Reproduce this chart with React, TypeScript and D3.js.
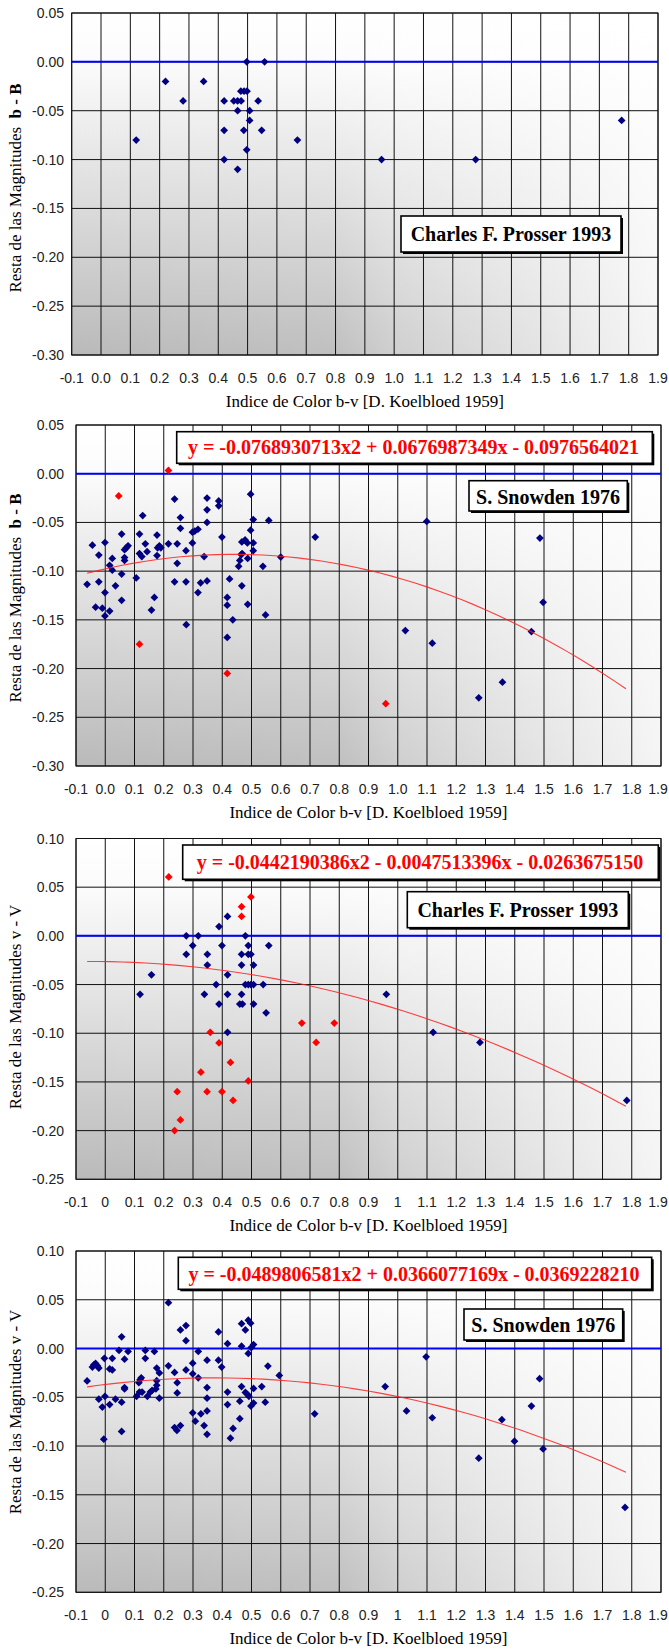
import React from 'react';
import * as d3 from 'd3';

// ---------- DATA ----------
const xTickValues = [-0.1, 0, 0.1, 0.2, 0.3, 0.4, 0.5, 0.6, 0.7, 0.8, 0.9, 1.0, 1.1, 1.2, 1.3, 1.4, 1.5, 1.6, 1.7, 1.8, 1.9];
const xTickLabelsFixed = ['-0.1', '0.0', '0.1', '0.2', '0.3', '0.4', '0.5', '0.6', '0.7', '0.8', '0.9', '1.0', '1.1', '1.2', '1.3', '1.4', '1.5', '1.6', '1.7', '1.8', '1.9'];
const xTickLabelsShort = ['-0.1', '0', '0.1', '0.2', '0.3', '0.4', '0.5', '0.6', '0.7', '0.8', '0.9', '1', '1.1', '1.2', '1.3', '1.4', '1.5', '1.6', '1.7', '1.8', '1.9'];
const yTicksBB = [0.05, 0, -0.05, -0.1, -0.15, -0.2, -0.25, -0.3];
const yTickLabelsBB = ['0.05', '0.00', '-0.05', '-0.10', '-0.15', '-0.20', '-0.25', '-0.30'];
const yTicksVV = [0.1, 0.05, 0, -0.05, -0.1, -0.15, -0.2, -0.25];
const yTickLabelsVV = ['0.10', '0.05', '0.00', '-0.05', '-0.10', '-0.15', '-0.20', '-0.25'];

// Panel 1: Prosser 1993, b - B
const prosserBB: [number, number][] = [
  [0.12, -0.08], [0.22, -0.02], [0.28, -0.04], [0.35, -0.02], [0.42, -0.04], [0.42, -0.07], [0.42, -0.10],
  [0.453, -0.04], [0.466, -0.04], [0.478, -0.04], [0.466, -0.05], [0.466, -0.11], [0.477, -0.03], [0.488, -0.03],
  [0.498, -0.03], [0.487, -0.07], [0.497, 0.0], [0.497, -0.09], [0.507, -0.05], [0.507, -0.06], [0.536, -0.04],
  [0.548, -0.07], [0.558, 0.0], [0.67, -0.08], [0.957, -0.10], [1.278, -0.10], [1.776, -0.06],
];

// Panel 2: Snowden 1976, b - B
const snowdenBB: [number, number][] = [
  [-0.062, -0.1135], [-0.044, -0.0733], [-0.033, -0.137], [-0.022, -0.0835], [-0.022, -0.111], [-0.01, -0.138],
  [-0.001, -0.0706], [-0.001, -0.122], [-0.001, -0.146], [0.015, -0.094], [0.015, -0.141], [0.024, -0.087],
  [0.024, -0.099], [0.035, -0.115], [0.056, -0.062], [0.056, -0.103], [0.056, -0.13], [0.066, -0.078],
  [0.066, -0.086], [0.066, -0.089], [0.072, -0.076], [0.078, -0.074], [0.106, -0.107], [0.117, -0.062],
  [0.117, -0.082], [0.125, -0.085], [0.128, -0.043], [0.137, -0.072], [0.143, -0.08], [0.158, -0.14],
  [0.168, -0.127], [0.177, -0.063], [0.177, -0.084], [0.179, -0.076], [0.185, -0.074], [0.19, -0.076],
  [0.216, -0.072], [0.237, -0.026], [0.237, -0.111], [0.246, -0.072], [0.246, -0.092], [0.257, -0.045],
  [0.257, -0.056], [0.276, -0.079], [0.276, -0.111], [0.277, -0.155], [0.298, -0.071], [0.298, -0.06],
  [0.306, -0.059], [0.317, -0.057], [0.317, -0.122], [0.326, -0.112], [0.338, -0.085], [0.348, -0.025],
  [0.348, -0.037], [0.348, -0.05], [0.348, -0.11], [0.388, -0.028], [0.388, -0.033], [0.399, -0.065],
  [0.417, -0.127], [0.417, -0.135], [0.417, -0.168], [0.425, -0.108], [0.436, -0.15], [0.456, -0.095],
  [0.46, -0.089], [0.465, -0.083], [0.468, -0.082], [0.467, -0.115], [0.467, -0.07], [0.478, -0.068],
  [0.486, -0.071], [0.487, -0.087], [0.487, -0.134], [0.497, -0.021], [0.497, -0.058], [0.506, -0.047],
  [0.506, -0.071], [0.506, -0.079], [0.539, -0.095], [0.548, -0.145], [0.559, -0.048], [0.6, -0.0855],
  [0.718, -0.065], [1.099, -0.049], [1.486, -0.066], [1.497, -0.132], [1.026, -0.161], [1.118, -0.174],
  [1.457, -0.162], [1.358, -0.214], [1.277, -0.23],
];
const snowdenBBOut: [number, number][] = [
  [0.216, 0.0034], [0.046, -0.0228], [0.117, -0.175], [0.417, -0.205], [0.959, -0.236],
];

// Panel 3: Prosser 1993, v - V
const prosserVV: [number, number][] = [
  [0.119, -0.06], [0.158, -0.04], [0.277, 0.0], [0.318, 0.0], [0.299, -0.01], [0.277, -0.019], [0.349, -0.019],
  [0.349, -0.03], [0.379, -0.05], [0.339, -0.06], [0.389, -0.07], [0.389, 0.0095], [0.399, -0.01], [0.418, 0.02],
  [0.418, -0.04], [0.418, -0.06], [0.418, -0.099], [0.466, -0.019], [0.466, -0.03], [0.466, -0.06], [0.46, -0.07],
  [0.469, -0.07], [0.479, 0.0], [0.489, -0.01], [0.489, -0.019], [0.498, -0.019], [0.507, -0.03], [0.479, -0.05],
  [0.489, -0.05], [0.498, -0.05], [0.507, -0.05], [0.507, -0.07], [0.54, -0.05], [0.55, -0.079], [0.559, -0.01],
  [0.961, -0.06], [1.121, -0.099], [1.281, -0.1095], [1.783, -0.169],
];
const prosserVVOut: [number, number][] = [
  [0.217, 0.0605], [0.498, 0.04], [0.466, 0.03], [0.466, 0.02], [0.359, -0.099], [0.389, -0.11], [0.327, -0.14],
  [0.428, -0.13], [0.489, -0.149], [0.246, -0.16], [0.348, -0.16], [0.399, -0.16], [0.437, -0.169], [0.257, -0.189],
  [0.237, -0.2], [0.672, -0.0895], [0.721, -0.1095], [0.783, -0.0895],
];

// Panel 4: Snowden 1976, v - V
const snowdenVV: [number, number][] = [
  [-0.062, -0.0333], [-0.044, -0.019], [-0.039, -0.0167], [-0.033, -0.0153], [-0.027, -0.0177], [-0.022, -0.02],
  [-0.022, -0.052], [-0.01, -0.06], [-0.005, -0.093], [-0.003, -0.01], [-0.001, -0.049], [0.015, -0.021],
  [0.024, -0.022], [0.015, -0.0575], [0.024, -0.01], [0.035, -0.052], [0.047, -0.002], [0.056, 0.012],
  [0.056, -0.055], [0.056, -0.085], [0.066, -0.011], [0.066, -0.04], [0.066, -0.0415], [0.078, -0.003],
  [0.107, -0.049], [0.115, -0.035], [0.119, -0.032], [0.123, -0.03], [0.117, -0.0446], [0.126, -0.0446],
  [0.137, -0.002], [0.137, -0.01], [0.144, -0.049], [0.154, -0.0446], [0.16, -0.043], [0.168, -0.003],
  [0.173, -0.0415], [0.176, -0.033], [0.176, -0.0378], [0.176, -0.02], [0.185, -0.025], [0.185, -0.051],
  [0.216, 0.047], [0.216, -0.0177], [0.237, -0.0245], [0.246, -0.035], [0.246, -0.0456], [0.237, -0.081],
  [0.245, -0.084], [0.257, -0.079], [0.257, 0.019], [0.276, 0.0235], [0.276, 0.008], [0.276, -0.022],
  [0.299, -0.015], [0.299, -0.026], [0.299, -0.066], [0.308, -0.0745], [0.318, -0.003], [0.318, -0.03],
  [0.327, -0.067], [0.338, -0.079], [0.348, -0.012], [0.348, -0.04], [0.348, -0.051], [0.348, -0.064],
  [0.348, -0.088], [0.387, 0.017], [0.387, -0.012], [0.398, -0.019], [0.418, 0.005], [0.418, -0.0446],
  [0.418, -0.0575], [0.428, -0.092], [0.437, -0.082], [0.46, -0.072], [0.46, -0.054], [0.466, 0.0255],
  [0.466, 0.0024], [0.466, -0.039], [0.479, 0.019], [0.479, -0.045], [0.486, -0.047], [0.489, -0.005],
  [0.489, 0.029], [0.497, 0.026], [0.491, -0.049], [0.498, -0.059], [0.507, -0.056], [0.499, 0.001],
  [0.507, 0.004], [0.507, -0.041], [0.547, -0.055], [0.535, -0.039], [0.556, -0.018], [0.595, -0.0276],
  [0.716, -0.067], [0.957, -0.039], [1.097, -0.0085], [1.03, -0.064], [1.118, -0.071], [1.485, -0.031],
  [1.457, -0.059], [1.356, -0.073], [1.399, -0.095], [1.497, -0.103], [1.277, -0.1125], [1.777, -0.163],
];

// Trendline coefficients [a, b, c] for y = a x^2 + b x + c
const fitSnowdenBB = [-0.0768930713, 0.0676987349, -0.0976564021];
const fitProsserVV = [-0.0442190386, -0.0047513396, -0.026367515];
const fitSnowdenVV = [-0.0489806581, 0.0366077169, -0.036922821];
const fitRange = [-0.062, 1.78];

// ---------- LAYOUT ----------
type Box = { x0: number; x1: number; y0: number; y1: number; tx: number; ty: number };
type Panel = {
  top: number; bottom: number; left: number; right: number;
  yDomain: [number, number]; yTicks: number[]; yLabels: string[]; xLabels: string[];
  navy: [number, number][]; red: [number, number][]; fit: number[] | null;
  eq: string | null; eqBox: Box | null; label: string; labelBox: Box;
  titleBold: boolean; titleCy: number;
};

const panels: Panel[] = [
  {
    top: 13, bottom: 355, left: 71.7, right: 658,
    yDomain: [-0.3, 0.05], yTicks: yTicksBB, yLabels: yTickLabelsBB, xLabels: xTickLabelsFixed,
    navy: prosserBB, red: [], fit: null, eq: null, eqBox: null,
    label: 'Charles F. Prosser 1993', labelBox: { x0: 401, x1: 621, y0: 216, y1: 252, tx: 511, ty: 234 },
    titleBold: true, titleCy: 188,
  },
  {
    top: 425, bottom: 766, left: 76, right: 661,
    yDomain: [-0.3, 0.05], yTicks: yTicksBB, yLabels: yTickLabelsBB, xLabels: xTickLabelsFixed,
    navy: snowdenBB, red: snowdenBBOut, fit: fitSnowdenBB,
    eq: 'y = -0.0768930713x2 + 0.0676987349x - 0.0976564021',
    eqBox: { x0: 176.7, x1: 652.3, y0: 431.7, y1: 463.3, tx: 413.5, ty: 447 },
    label: 'S. Snowden 1976', labelBox: { x0: 469, x1: 627.3, y0: 480.7, y1: 511, tx: 548, ty: 496.5 },
    titleBold: true, titleCy: 598,
  },
  {
    top: 838.5, bottom: 1179.3, left: 76, right: 661,
    yDomain: [-0.25, 0.1], yTicks: yTicksVV, yLabels: yTickLabelsVV, xLabels: xTickLabelsShort,
    navy: prosserVV, red: prosserVVOut, fit: fitProsserVV,
    eq: 'y = -0.0442190386x2 - 0.0047513396x - 0.0263675150',
    eqBox: { x0: 182.7, x1: 658.3, y0: 845, y1: 879.3, tx: 420, ty: 862.3 },
    label: 'Charles F. Prosser 1993', labelBox: { x0: 407.3, x1: 628.3, y0: 891.7, y1: 927.7, tx: 517.8, ty: 910 },
    titleBold: false, titleCy: 1007,
  },
  {
    top: 1251, bottom: 1592.3, left: 76, right: 661,
    yDomain: [-0.25, 0.1], yTicks: yTicksVV, yLabels: yTickLabelsVV, xLabels: xTickLabelsShort,
    navy: snowdenVV, red: [], fit: fitSnowdenVV,
    eq: 'y = -0.0489806581x2 + 0.0366077169x - 0.0369228210',
    eqBox: { x0: 178.3, x1: 651.7, y0: 1257.3, y1: 1289.3, tx: 414, ty: 1274 },
    label: 'S. Snowden 1976', labelBox: { x0: 464, x1: 622.7, y0: 1309, y1: 1340, tx: 543.3, ty: 1324.7 },
    titleBold: false, titleCy: 1412,
  },
];

const SANS = "'Liberation Sans', Arial, sans-serif";
const SERIF = "'Liberation Serif', 'Times New Roman', serif";

const diamond = d3.symbol().type(d3.symbolSquare).size(30)();

function LabelBox({ b, text, color }: { b: Box; text: string; color: string }) {
  return (
    <g>
      <rect x={b.x0 + 2} y={b.y0 + 2} width={b.x1 - b.x0} height={b.y1 - b.y0} fill="#000" />
      <rect x={b.x0} y={b.y0} width={b.x1 - b.x0} height={b.y1 - b.y0} fill="#fff" stroke="#000" strokeWidth={1.6} />
      <text x={b.tx} y={b.ty + 7} textAnchor="middle" fontFamily={SERIF} fontWeight="bold" fontSize={20} fill={color}>
        {text}
      </text>
    </g>
  );
}

function PanelView({ p, i }: { p: Panel; i: number }) {
  const x = d3.scaleLinear().domain([-0.1, 1.9]).range([p.left, p.right]);
  const y = d3.scaleLinear().domain(p.yDomain).range([p.bottom, p.top]);
  const w = p.right - p.left;
  const h = p.bottom - p.top;
  const line = d3.line<number>().x((v) => x(v)).y((v) => {
    const f = p.fit as number[];
    return y(f[0] * v * v + f[1] * v + f[2]);
  });
  const samples = d3.range(fitRange[0], fitRange[1] + 1e-9, (fitRange[1] - fitRange[0]) / 46);
  const titleX = 21;
  return (
    <g>
      <defs>
        <linearGradient id={`gv${i}`} x1="0" y1="0" x2="0" y2="1">
          <stop offset="0" stopColor="#ffffff" />
          <stop offset="0.15" stopColor="#fbfbfb" />
          <stop offset="1" stopColor="#bababa" />
        </linearGradient>
        <linearGradient id={`gh${i}`} x1="0" y1="0" x2="1" y2="0">
          <stop offset="0" stopColor="#ffffff" stopOpacity="0" />
          <stop offset="0.45" stopColor="#ffffff" stopOpacity="0.08" />
          <stop offset="0.55" stopColor="#ffffff" stopOpacity="0.3" />
          <stop offset="1" stopColor="#ffffff" stopOpacity="0.85" />
        </linearGradient>
      </defs>
      <rect x={p.left} y={p.top} width={w} height={h} fill={`url(#gv${i})`} />
      <rect x={p.left} y={p.top} width={w} height={h} fill={`url(#gh${i})`} />
      {xTickValues.map((v, k) => (
        <line key={`vx${k}`} x1={x(v)} x2={x(v)} y1={p.top} y2={p.bottom} stroke="#111" strokeWidth={1} />
      ))}
      {p.yTicks.map((v, k) => (
        <line key={`hy${k}`} x1={p.left} x2={p.right} y1={y(v)} y2={y(v)} stroke="#111" strokeWidth={1} />
      ))}
      <rect x={p.left} y={p.top} width={w} height={h} fill="none" stroke="#111" strokeWidth={1} />
      <line x1={p.left} x2={p.right} y1={y(0)} y2={y(0)} stroke="#0000ff" strokeWidth={2} />
      {p.navy.map((d, k) => (
        <path key={`n${k}`} d={diamond as string} transform={`translate(${x(d[0])},${y(d[1])}) rotate(45)`} fill="#000080" />
      ))}
      {p.red.map((d, k) => (
        <path key={`r${k}`} d={diamond as string} transform={`translate(${x(d[0])},${y(d[1])}) rotate(45)`} fill="#ff0000" />
      ))}
      {p.fit && <path d={line(samples) as string} fill="none" stroke="#ff2020" strokeWidth={1.1} strokeOpacity={0.85} />}
      {p.eq && p.eqBox && <LabelBox b={p.eqBox} text={p.eq} color="#ff0000" />}
      <LabelBox b={p.labelBox} text={p.label} color="#000" />
      {p.yTicks.map((v, k) => (
        <text key={`yl${k}`} x={64} y={y(v) + 5} textAnchor="end" fontFamily={SANS} fontSize={14} fill="#222">
          {p.yLabels[k]}
        </text>
      ))}
      {xTickValues.map((v, k) => (
        <text key={`xl${k}`} x={Math.min(x(v), 658)} y={p.bottom + 28} textAnchor="middle" fontFamily={SANS} fontSize={14} fill="#222">
          {p.xLabels[k]}
        </text>
      ))}
      <text x={(p.left + p.right) / 2} y={p.bottom + 52} textAnchor="middle" fontFamily={SERIF} fontSize={17} fill="#000">
        Indice de Color b-v [D. Koelbloed 1959]
      </text>
      <text
        transform={`translate(${titleX},${p.titleCy}) rotate(-90)`}
        textAnchor="middle"
        fontFamily={SERIF}
        fontSize={17}
        fill="#000"
      >
        {p.titleBold ? (
          <>
            <tspan>Resta de las Magnitudes{'\u00a0\u00a0'}</tspan>
            <tspan fontWeight="bold">b - B</tspan>
          </>
        ) : (
          'Resta de las Magnitudes v - V'
        )}
      </text>
    </g>
  );
}

export default function App() {
  return (
    <svg
      width={669}
      height={1650}
      viewBox="0 0 669 1650"
      style={{ position: 'absolute', left: 0, top: 0, background: '#fff' }}
    >
      <rect x={0} y={0} width={669} height={1650} fill="#fff" />
      {panels.map((p, i) => (
        <PanelView key={i} p={p} i={i} />
      ))}
    </svg>
  );
}
